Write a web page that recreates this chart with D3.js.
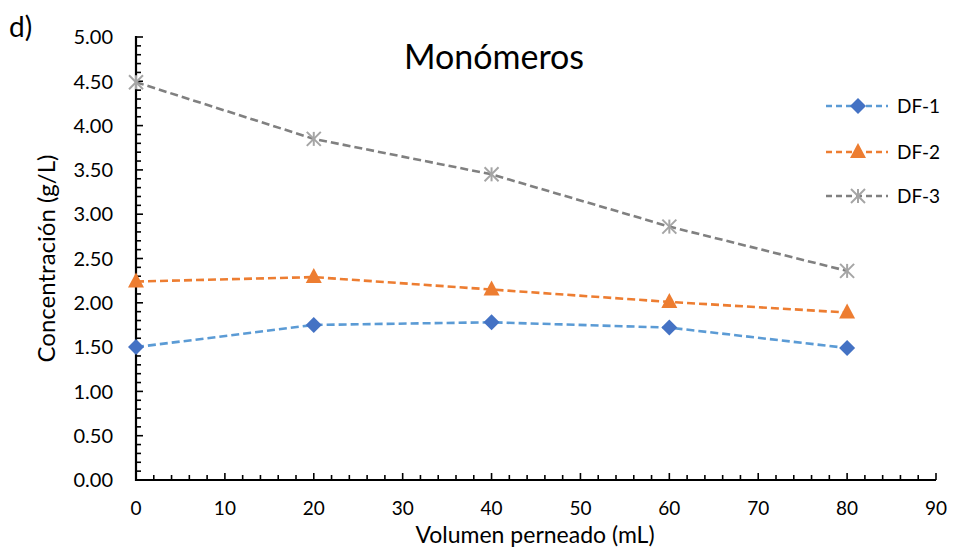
<!DOCTYPE html>
<html>
<head>
<meta charset="utf-8">
<script src="https://cdn.jsdelivr.net/npm/d3@7"></script>
<style>
  body { margin: 0; background: #fff; }
  svg text { font-family: Lato, "Open Sans", sans-serif; fill: #000; }
</style>
</head>
<body>
<svg id="chart"></svg>
<script>
// DATA
let volumes = [0, 20, 40, 60, 80];
let seriesNames = ["DF-1", "DF-2", "DF-3"];
let df1 = [1.50, 1.75, 1.78, 1.72, 1.49];
let df2 = [2.24, 2.29, 2.15, 2.01, 1.89];
let df3 = [4.49, 3.85, 3.45, 2.86, 2.36];
let yTicks = [0, 0.5, 1, 1.5, 2, 2.5, 3, 3.5, 4, 4.5, 5];
let xTicks = [0, 10, 20, 30, 40, 50, 60, 70, 80, 90];

let series = [
  {name: seriesNames[0], values: df1, line: "#5B9BD5", fill: "#4472C4", symbol: "diamond"},
  {name: seriesNames[1], values: df2, line: "#ED7D31", fill: "#ED7D31", symbol: "triangle"},
  {name: seriesNames[2], values: df3, line: "#808080", fill: "#A5A5A5", symbol: "star"}
];

let width = 955, height = 547;
let margin = {top: 37, left: 136, right: 19, bottom: 67};

let svg = d3.select("#chart").attr("width", width).attr("height", height);

let x = d3.scaleLinear().domain([0, 90]).range([margin.left, width - margin.right]);
let y = d3.scaleLinear().domain([0, 5]).range([height - margin.bottom, margin.top]);

// minor ticks
let yMinor = d3.range(0, 5.001, 0.1);
let xMinor = d3.range(0, 90.001, 2);

svg.append("g").selectAll("line").data(yMinor).enter().append("line")
  .attr("x1", x(0)).attr("x2", d => x(0) + (Math.abs(d * 2 - Math.round(d * 2)) < 1e-6 ? 7 : 5))
  .attr("y1", d => y(d)).attr("y2", d => y(d))
  .attr("stroke", "#000").attr("stroke-width", 1.6);

svg.append("g").selectAll("line").data(xMinor).enter().append("line")
  .attr("x1", d => x(d)).attr("x2", d => x(d))
  .attr("y1", y(0)).attr("y2", d => y(0) - (d % 10 === 0 ? 7 : 5))
  .attr("stroke", "#000").attr("stroke-width", 1.6);

// axis lines
svg.append("line").attr("x1", x(0)).attr("x2", x(0)).attr("y1", y(0) + 1).attr("y2", y(5) - 1)
  .attr("stroke", "#000").attr("stroke-width", 2.2);
svg.append("line").attr("x1", x(0) - 1).attr("x2", x(90)).attr("y1", y(0)).attr("y2", y(0))
  .attr("stroke", "#000").attr("stroke-width", 2.2);

// tick labels
svg.append("g").selectAll("text").data(yTicks).enter().append("text")
  .attr("x", 113).attr("y", d => y(d)).attr("dy", "0.36em")
  .attr("text-anchor", "end").style("font-size", "20px")
  .text(d => d.toFixed(2));

svg.append("g").selectAll("text").data(xTicks).enter().append("text")
  .attr("x", d => x(d)).attr("y", y(0) + 35)
  .attr("text-anchor", "middle").style("font-size", "19px")
  .text(d => d);

// titles
svg.append("text").attr("x", 494).attr("y", 69).attr("text-anchor", "middle")
  .style("font-size", "34px").text("Monómeros");
svg.append("text").attr("x", 9).attr("y", 37).style("font-size", "28px").text("d)");
svg.append("text").attr("transform", `translate(55,${(y(0) + y(5)) / 2}) rotate(-90)`)
  .attr("text-anchor", "middle").style("font-size", "24px").text("Concentración (g/L)");
svg.append("text").attr("x", 535).attr("y", 543).attr("text-anchor", "middle")
  .style("font-size", "23px").text("Volumen perneado (mL)");

// markers
function drawMarker(g, s, cx, cy) {
  if (s.symbol === "diamond") {
    g.append("path").attr("d", `M${cx},${cy - 8}L${cx + 8},${cy}L${cx},${cy + 8}L${cx - 8},${cy}Z`)
      .attr("fill", s.fill);
  } else if (s.symbol === "triangle") {
    g.append("path").attr("d", `M${cx},${cy - 9}L${cx + 8},${cy + 6}L${cx - 8},${cy + 6}Z`)
      .attr("fill", s.fill);
  } else {
    let r = 7;
    [[-r, -r, r, r], [-r, r, r, -r], [0, -r, 0, r]].forEach(p => {
      g.append("line").attr("x1", cx + p[0]).attr("y1", cy + p[1]).attr("x2", cx + p[2]).attr("y2", cy + p[3])
        .attr("stroke", s.fill).attr("stroke-width", 2);
    });
  }
}

let line = d3.line().x((d, i) => x(volumes[i])).y(d => y(d));

series.forEach(s => {
  svg.append("path").attr("d", line(s.values))
    .attr("fill", "none").attr("stroke", s.line).attr("stroke-width", 2.6)
    .attr("stroke-dasharray", "8,4");
  let g = svg.append("g");
  s.values.forEach((v, i) => drawMarker(g, s, x(volumes[i]), y(v)));
});

// legend
let legendY = [106, 152, 196];
series.forEach((s, i) => {
  let g = svg.append("g");
  g.append("line").attr("x1", 826).attr("x2", 888).attr("y1", legendY[i]).attr("y2", legendY[i])
    .attr("stroke", s.line).attr("stroke-width", 2.6).attr("stroke-dasharray", "6,4");
  drawMarker(g, s, 858, legendY[i]);
  g.append("text").attr("x", 897).attr("y", legendY[i]).attr("dy", "0.36em")
    .style("font-size", "19px").text(s.name);
});
</script>
</body>
</html>
